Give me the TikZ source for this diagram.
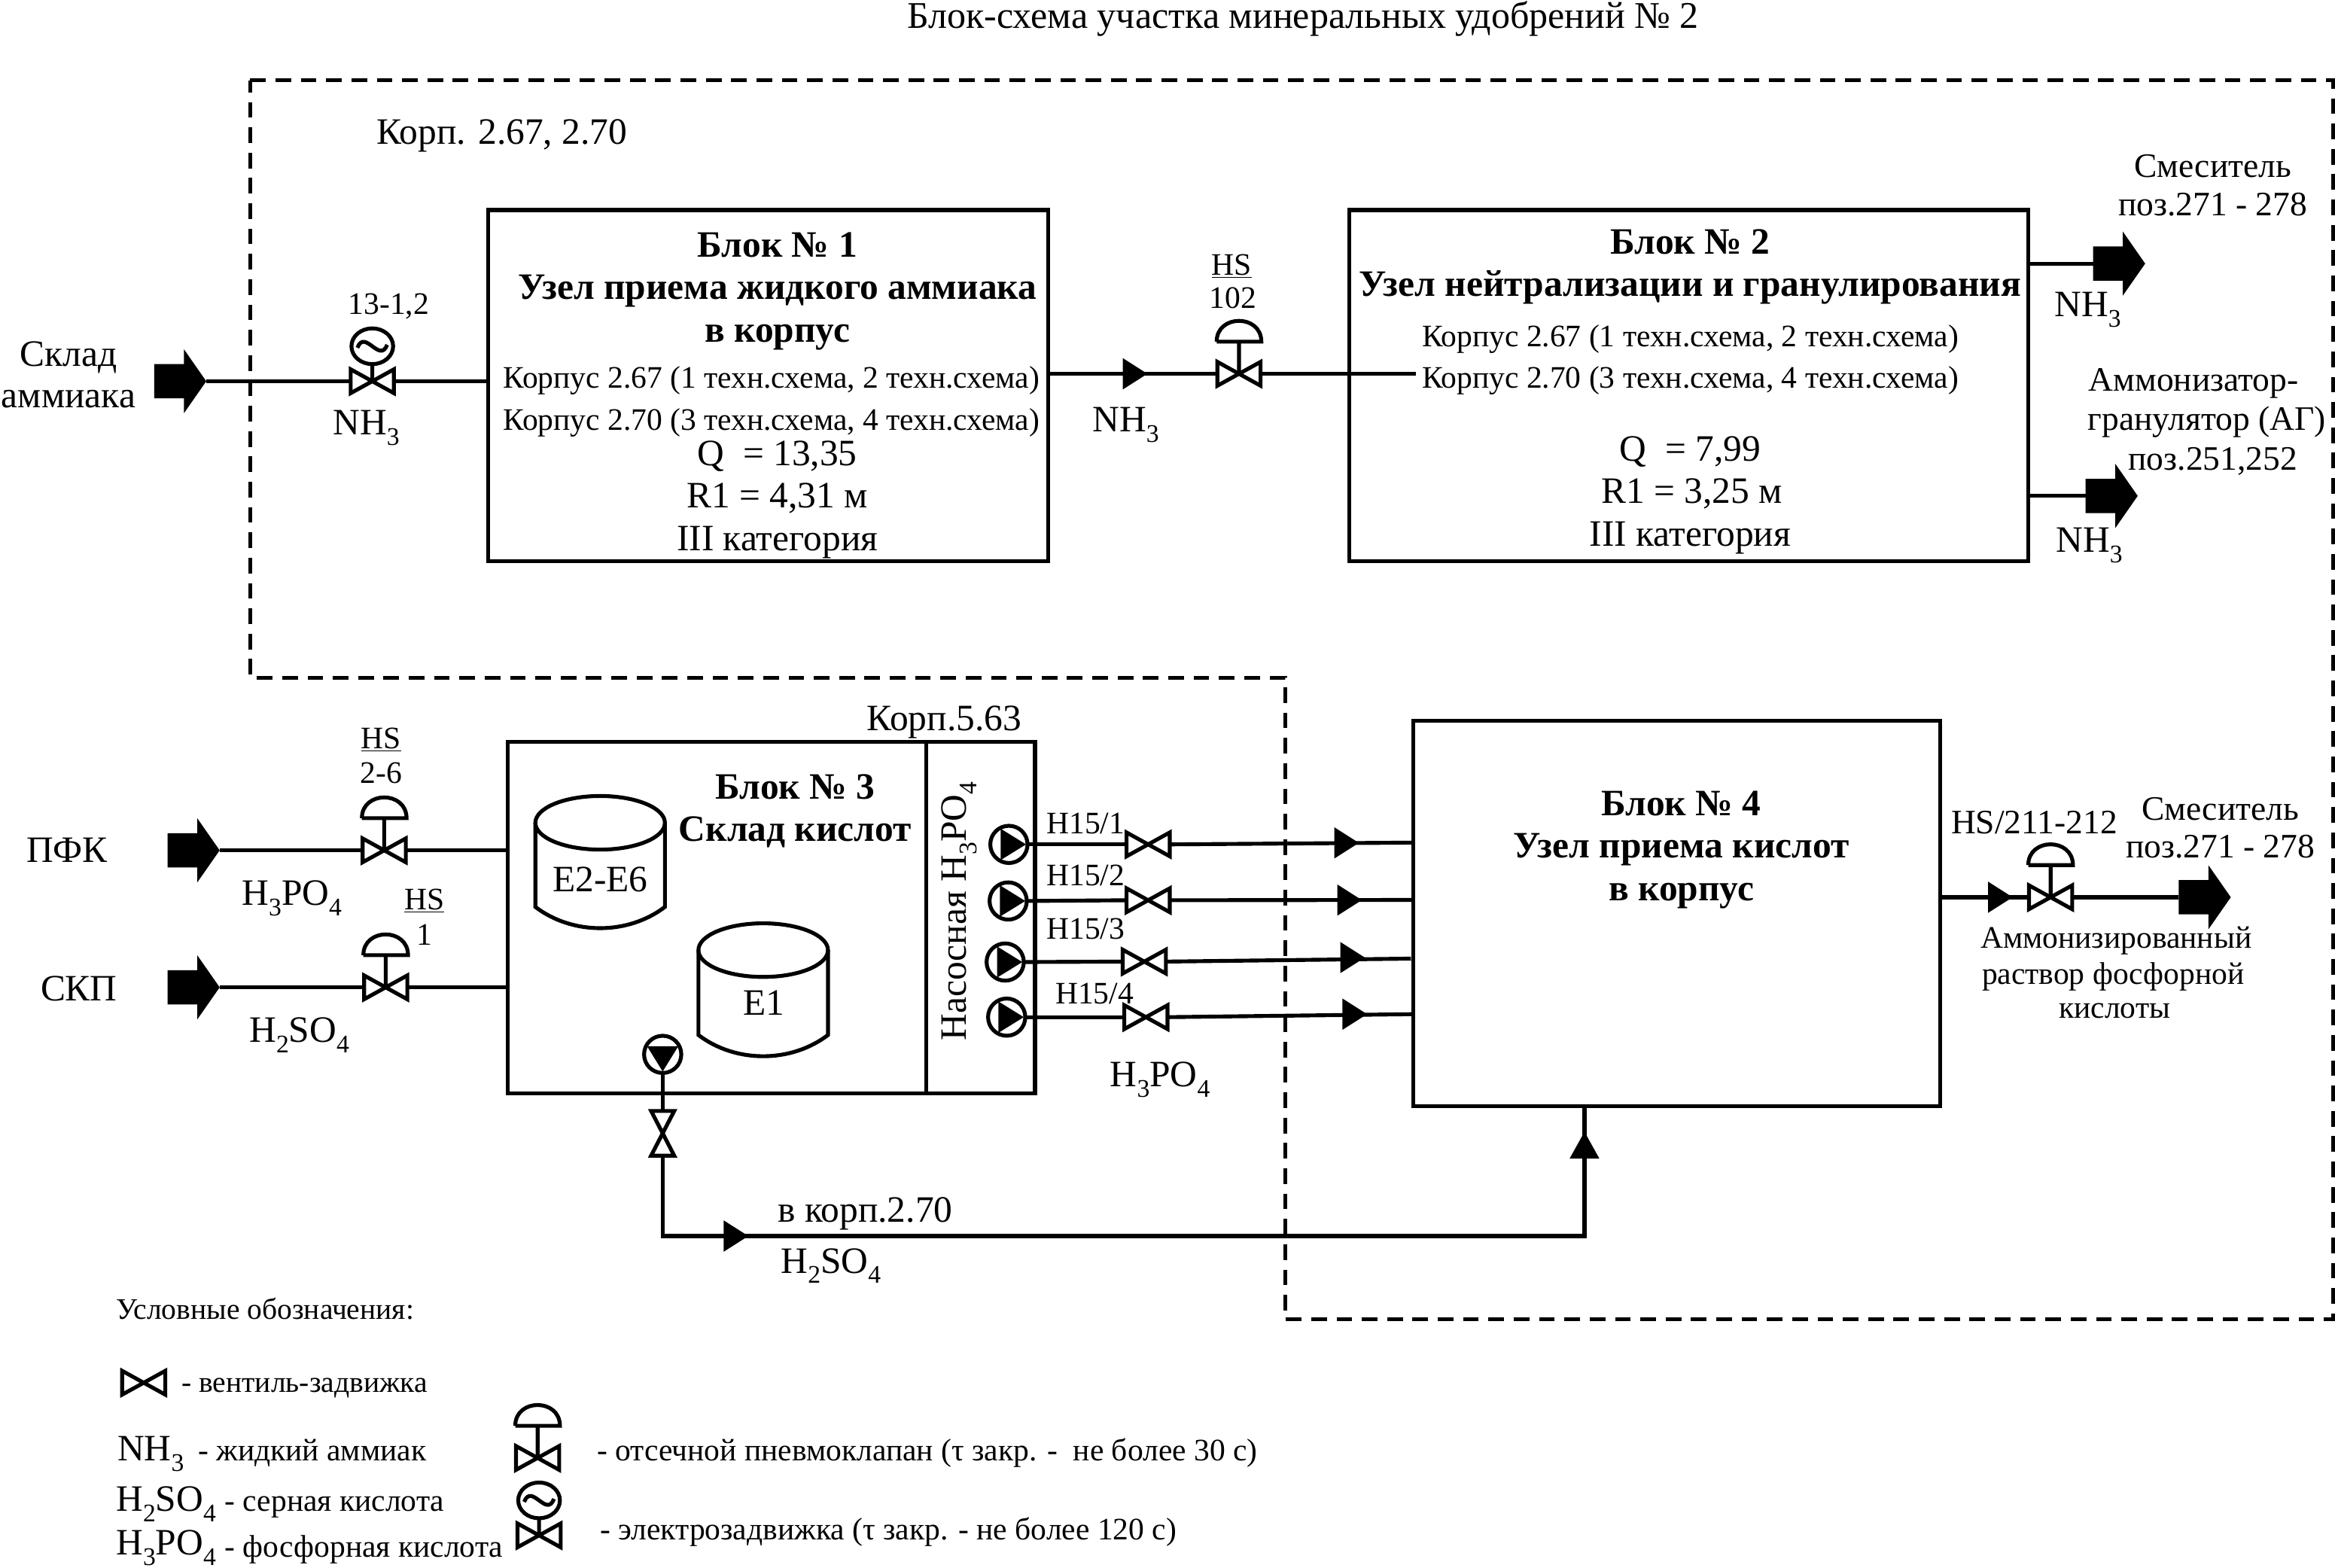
\documentclass[tikz,border=0pt]{standalone}
\usepackage{fontspec}
\setmainfont{Liberation Serif}
\usetikzlibrary{shapes.geometric}
\tikzset{
 t/.style={inner sep=0,outer sep=0,anchor=mid},
 pipe/.style={line width=2.6pt,line join=miter},
 blk/.style={draw,line width=2.6pt,inner sep=0,outer sep=0,anchor=north west},
 vnode/.style={inner sep=0,outer sep=0,minimum width=29pt,minimum height=16pt},
 vnodeV/.style={inner sep=0,outer sep=0,minimum width=15.5pt,minimum height=30pt},
 anode/.style={inner sep=0,outer sep=0,minimum width=35pt,minimum height=43pt},
 pumpn/.style={draw,circle,line width=2.6pt,inner sep=0,outer sep=0,minimum size=25pt},
 zone/.style={line width=2.6pt,dash pattern=on 10.5pt off 6.5pt},
}
\newcommand\T[5][]{\node[t,#1,yshift=-5.5pt,font=\fontsize{#4}{#4}\selectfont] (#2) at (#3) {#5};}
\newcommand\dn[1]{\raisebox{-0.28em}{\scalebox{0.68}{#1}}}
\newcommand\Valve[2]{\node[vnode] (#1) at (#2) {};
 \draw[pipe,fill=white] (#1.north west) -- (#1.south east) -- (#1.north east) -- (#1.south west) -- cycle;}
\newcommand\ValveV[2]{\node[vnodeV] (#1) at (#2) {};
 \draw[pipe,fill=white] (#1.north west) -- (#1.north east) -- (#1.south west) -- (#1.south east) -- cycle;}
\newcommand\Actu[1]{\draw[pipe] (#1.center) -- ++(0,-21.6) ++(-15,0) -- ++(30,0) .. controls +(0,-18.6) and +(0,-18.6) .. ++(-30,0);}
\newcommand\Motor[1]{\draw[pipe] (#1.center) -- ++(0,-11.5) ++(0,-12) ellipse (14 and 12)
 ++(-10,1) .. controls +(5,-13) and +(-5,13) .. ++(20,-2);}
\newcommand\BigArr[2]{\node[anode] (#1) at (#2) {};
 \fill (#1.west) ++(0,-11.5) -- ++(20,0) -- ++(0,-10) -- (#1.east) -- ++(-15,21.5) -- ++(0,-10) -- ++(-20,0) -- cycle;}
\newcommand\TriR[1]{\fill (#1) ++(-8,-10.5) -- ++(16.5,10.5) -- ++(-16.5,10.5) -- cycle;}
\newcommand\TriU[1]{\fill (#1) ++(-10,8) -- ++(10,-18) -- ++(10,18) -- cycle;}
\newcommand\PumpR[2]{\node[pumpn] (#1) at (#2) {};
 \fill (#1.center) ++(-5.5,-10.5) -- ++(17,10.5) -- ++(-17,10.5) -- cycle;}
\newcommand\PumpD[2]{\node[pumpn] (#1) at (#2) {};
 \fill (#1.center) ++(-10.5,-5.5) -- ++(21,0) -- ++(-10.5,17) -- cycle;}
\newcommand\Tank[5]{\draw[pipe] (#1,#3) -- (#1,#4) .. controls +(25,#5) and +(-25,#5) .. (#2,#4) -- (#2,#3);}
\begin{document}
\begin{tikzpicture}[x=1pt,y=-1pt]
\useasboundingbox (0,0) rectangle (1568,1052.9);
\fill[white] (0,0) rectangle (1568,1052.9);
% zone
\draw[zone] (168,54) -- (1567,54) -- (1567,886) -- (863,886) -- (863,455) -- (168,455) -- cycle;
% blocks
\node[blk,minimum width=376pt,minimum height=236pt] (b1) at (328,141) {};
\node[blk,minimum width=456pt,minimum height=236pt] (b2) at (906,141) {};
\node[blk,minimum width=354pt,minimum height=236pt] (b3) at (341,498) {};
\node[blk,minimum width=354pt,minimum height=259pt] (b4) at (949,484) {};
\coordinate (dv1) at (622,498); \coordinate (dv2) at (622,734);
\draw[pipe] (dv1) -- (dv2);
% arrows and valves
\BigArr{a1}{121,256}
\Valve{v1}{250,256} \Motor{v1}
\Valve{v2}{832,251} \Actu{v2}
\BigArr{a2}{1423,177}
\BigArr{a3}{1418,333}
\BigArr{a4}{130,571}
\Valve{v3}{258,571} \Actu{v3}
\BigArr{a5}{130,663}
\Valve{v4}{259,663} \Actu{v4}
\Valve{v6}{1377,602.5} \Actu{v6}
\BigArr{a6}{1480.5,602.5}
\PumpR{p1}{677.5,567}
\PumpR{p2}{677,605}
\PumpR{p3}{675,646}
\PumpR{p4}{676,683}
\Valve{vp1}{771,567}
\Valve{vp2}{771,604.5}
\Valve{vp3}{768.4,645.7}
\Valve{vp4}{769.5,683}
\PumpD{pb}{445,708}
\ValveV{vb}{445,761}
% connectors
\draw[pipe] (a1.east) -- (v1.west);
\draw[pipe] (v1.east) -- (v1.east -| b1.west);
\draw[pipe] (v2.west -| b1.east) -- (v2.west);
\coordinate (b2in) at (951,251);
\draw[pipe] (v2.east) -- (b2in);
\draw[pipe] (a2.west -| b2.east) -- (a2.west);
\draw[pipe] (a3.west -| b2.east) -- (a3.west);
\draw[pipe] (a4.east) -- (v3.west);
\draw[pipe] (v3.east) -- (v3.east -| b3.west);
\draw[pipe] (a5.east) -- (v4.west);
\draw[pipe] (v4.east) -- (v4.east -| b3.west);
\draw[pipe] (p1.east) -- (vp1.west);
\draw[pipe] (p2.east) -- (vp2.west);
\draw[pipe] (p3.east) -- (vp3.west);
\draw[pipe] (p4.east) -- (vp4.west);
\coordinate (e1) at (949,565.8);
\coordinate (e2) at (949,604.3);
\coordinate (e3) at (947.5,643.7);
\coordinate (e4) at (949,681);
\draw[pipe] (vp1.east) -- (e1);
\draw[pipe] (vp2.east) -- (e2);
\draw[pipe] (vp3.east) -- (e3);
\draw[pipe] (vp4.east) -- (e4);
\draw[pipe] (pb.south) -- (vb.north);
\coordinate (c1) at (445,830); \coordinate (c2) at (1064,830);
\draw[pipe] (vb.south) -- (c1) -- (c2) -- (c2 |- b4.south);
\draw[pipe] (v6.west -| b4.east) -- (v6.west);
\draw[pipe] (v6.east) -- (a6.west);
% small arrows
\TriR{762,251}
\TriR{904,566}
\TriR{906,604.4}
\TriR{908,643}
\TriR{909.5,681}
\TriR{494,830}
\TriR{1343,602.5}
\TriU{1064,770}
% tanks
\draw[pipe] (403,552.5) ellipse (43.5 and 18);
\Tank{359.5}{446.5}{552.5}{609}{19}
\draw[pipe] (512.5,638) ellipse (43.5 and 18);
\Tank{469}{556}{638}{695}{19}
% texts
\T{ti}{875,11}{25.3}{Блок-схема участка минеральных удобрений № 2}
\T{k1}{337,89}{25}{Корп. 2.67, 2.70}
\T{s1}{46,238}{25}{Склад}
\T{s2}{46,266}{25}{аммиака}
\T{l1}{261,203}{21}{13-1,2}
\T{n1}{246,284}{25}{NH\dn{3}}
\T{b1a}{522,165}{25}{\bfseries Блок № 1}
\T{b1b}{522,193}{25}{\bfseries Узел приема жидкого аммиака}
\T{b1c}{522,222}{25}{\bfseries в корпус}
\T{b1d}{518,253}{21}{Корпус 2.67 (1 техн.схема, 2 техн.схема)}
\T{b1e}{518,281}{21}{Корпус 2.70 (3 техн.схема, 4 техн.схема)}
\T{b1f}{522,305}{25}{Q\ \ = 13,35}
\T{b1g}{522,333}{25}{R1 = 4,31 м}
\T{b1h}{522,362}{25}{III категория}
\T{hs1}{827,177}{21}{\underline{HS}}
\T{hs2}{828,199}{21}{102}
\T{n2}{756,282}{25}{NH\dn{3}}
\T{b2a}{1135,163}{25}{\bfseries Блок № 2}
\T{b2b}{1135,191}{25}{\bfseries Узел нейтрализации и гранулирования}
\T{b2d}{1135,225}{21}{Корпус 2.67 (1 техн.схема, 2 техн.схема)}
\T{b2e}{1135,253}{21}{Корпус 2.70 (3 техн.схема, 4 техн.схема)}
\T{b2f}{1135,302}{25}{Q\ \ = 7,99}
\T{b2g}{1136,330}{25}{R1 = 3,25 м}
\T{b2h}{1135,359}{25}{III категория}
\T{m1}{1486,111}{23}{Смеситель}
\T{m2}{1486,137}{23}{поз.271 - 278}
\T{n3}{1402,205}{25}{NH\dn{3}}
\T{g1}{1473,255}{23}{Аммонизатор-}
\T{g2}{1482,281}{23}{гранулятор (АГ)}
\T{g3}{1486,308}{23}{поз.251,252}
\T{n4}{1403,363}{25}{NH\dn{3}}
\T{k2}{634,483}{25}{Корп.5.63}
\T{b3a}{534,529}{25}{\bfseries Блок № 3}
\T{b3b}{534,557}{25}{\bfseries Склад кислот}
\T[rotate=90]{na}{641,612}{25}{Насосная H\dn{3}PO\dn{4}}
\T{e26}{403,591}{25}{Е2-Е6}
\T{e1}{513,674}{25}{Е1}
\T{pfk}{45,571}{25}{ПФК}
\T{skp}{53,664}{25}{СКП}
\T{h1}{196,600}{25}{H\dn{3}PO\dn{4}}
\T{h2}{201,692}{25}{H\dn{2}SO\dn{4}}
\T{hs3}{256,495}{21}{\underline{HS}}
\T{hs4}{256,518}{21}{2-6}
\T{hs5}{285,603}{21}{\underline{HS}}
\T{hs6}{285,627}{21}{1}
\T{b4a}{1129,540}{25}{\bfseries Блок № 4}
\T{b4b}{1129,568}{25}{\bfseries Узел приема кислот}
\T{b4c}{1129,597}{25}{\bfseries в корпус}
\T{q1}{729,552}{21}{Н15/1}
\T{q2}{729,587}{21}{Н15/2}
\T{q3}{729,623}{21}{Н15/3}
\T{q4}{735,666}{21}{Н15/4}
\T{h3}{779,722}{25}{H\dn{3}PO\dn{4}}
\T{hs7}{1366,552}{23}{HS/211-212}
\T{m3}{1491,543}{23}{Смеситель}
\T{m4}{1491,568}{23}{поз.271 - 278}
\T{r1}{1421,629}{21}{Аммонизированный}
\T{r2}{1419,653}{21}{раствор фосфорной}
\T{r3}{1420,676}{21}{кислоты}
\T{k3}{581,813}{25}{в корп.2.70}
\T{h4}{558,847}{25}{H\dn{2}SO\dn{4}}
% legend
\T[anchor=mid west]{u0}{78,878}{20}{Условные обозначения:}
\Valve{lv1}{96.5,928.5}
\T[anchor=mid west]{u1}{122,927}{20}{- вентиль-задвижка}
\T[anchor=mid west]{u2}{79,973}{25}{NH\dn{3}}
\T[anchor=mid west]{u3}{133,973}{21}{- жидкий аммиак}
\T[anchor=mid west]{u4}{78,1007}{25}{H\dn{2}SO\dn{4}}
\T[anchor=mid west]{u5}{151,1007}{21}{- серная кислота}
\T[anchor=mid west]{u6}{78,1036.5}{25}{H\dn{3}PO\dn{4}}
\T[anchor=mid west]{u7}{151,1038}{21}{- фосфорная кислота}
\Valve{lv2}{361,979} \Actu{lv2}
\T[anchor=mid west]{u8}{401,973}{21}{- отсечной пневмоклапан (τ закр. -\ \ не более 30 с)}
\Valve{lv3}{362,1031} \Motor{lv3}
\T[anchor=mid west]{u9}{403,1026}{21}{- электрозадвижка (τ закр. - не более 120 с)}
\end{tikzpicture}
\end{document}
